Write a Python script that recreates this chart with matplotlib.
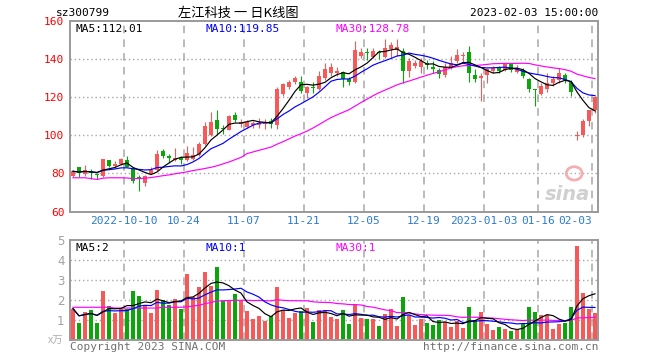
import numpy as np
import pandas as pd
import matplotlib
matplotlib.use('Agg')
import matplotlib.pyplot as plt
from matplotlib.patches import Ellipse

# daily candles, oldest first (one per trading day)
opens = [78.6, 83.2, 79.8, 81.1, 79.5, 78.6, 86.8, 83.9, 84.7, 87.2,
         82.8, 78.3, 74.9, 79.8, 81.6, 91.6, 89.3, 86.8, 88.2, 86.8,
         87.7, 89.5, 95.3, 100.0, 107.9, 104.0, 103.0, 110.5, 105.8, 104.6,
         105.4, 105.4, 105.8, 107.7, 105.4, 121.8, 125.3, 128.2, 128.2, 122.1,
         125.3, 124.4, 130.0, 132.6, 132.6, 133.0, 129.5, 128.2, 141.8, 143.9,
         141.0, 143.9, 141.0, 145.3, 144.6, 144.5, 133.5, 136.6, 135.8, 138.2,
         136.1, 134.4, 131.8, 135.8, 138.8, 141.6, 143.5, 131.8, 130.0, 131.8,
         133.5, 135.3, 134.4, 137.2, 133.2, 134.2, 129.3, 124.4, 121.9, 124.4,
         127.2, 128.9, 131.4, 127.9, 99.5, 100.4, 107.4, 113.2]
highs = [81.6, 83.4, 84.2, 82.2, 80.2, 87.8, 87.0, 86.5, 87.9, 89.1,
         82.8, 79.2, 79.0, 83.3, 92.1, 92.6, 90.3, 93.3, 89.3, 94.2,
         94.0, 96.5, 107.0, 112.3, 113.2, 105.2, 110.5, 112.2, 108.8, 108.1,
         107.7, 108.9, 108.4, 108.9, 125.3, 127.7, 129.1, 130.9, 130.9, 126.0,
         128.2, 133.5, 137.9, 138.2, 136.1, 133.5, 130.5, 149.3, 145.8, 145.8,
         145.8, 144.6, 150.5, 148.8, 150.5, 145.8, 140.7, 139.7, 140.5, 139.3,
         138.8, 135.3, 137.9, 141.4, 145.3, 143.5, 146.7, 134.7, 132.6, 135.3,
         136.5, 136.5, 138.2, 138.0, 137.0, 135.4, 130.2, 124.4, 127.5, 132.5,
         130.9, 135.4, 132.5, 128.9, 102.1, 108.6, 113.5, 120.5]
lows = [78.0, 78.1, 78.5, 77.3, 77.3, 78.2, 83.3, 83.3, 84.3, 83.3,
        74.9, 70.7, 73.3, 79.6, 81.3, 88.2, 85.4, 86.5, 85.1, 86.5,
        86.8, 89.3, 94.8, 99.5, 100.9, 100.8, 102.6, 106.9, 104.4, 103.8,
        103.8, 103.8, 103.5, 104.0, 103.5, 120.8, 124.2, 126.8, 122.1, 119.5,
        122.1, 123.9, 129.1, 130.9, 130.9, 125.3, 126.5, 127.4, 140.5, 139.3,
        140.5, 140.0, 140.5, 140.8, 141.8, 127.4, 130.5, 135.1, 132.6, 134.7,
        132.6, 130.0, 130.5, 134.7, 137.9, 138.2, 128.2, 127.9, 118.2, 127.7,
        132.6, 132.6, 133.5, 133.2, 132.5, 130.2, 122.6, 115.3, 120.9, 122.8,
        126.1, 127.5, 127.5, 120.5, 97.4, 99.1, 105.1, 111.8]
closes = [81.1, 80.4, 81.6, 80.2, 79.0, 87.4, 83.9, 85.1, 87.4, 83.3,
          76.0, 77.3, 78.4, 81.9, 90.0, 89.0, 88.1, 88.2, 86.8, 90.7,
          89.8, 95.3, 104.9, 107.0, 103.5, 103.4, 110.0, 108.2, 107.0, 107.2,
          106.7, 106.3, 106.7, 106.0, 124.2, 126.8, 128.2, 130.0, 123.5, 125.3,
          124.6, 130.9, 134.7, 135.6, 133.5, 129.5, 128.2, 144.9, 143.5, 143.3,
          144.0, 143.4, 145.8, 147.5, 146.3, 134.0, 139.1, 137.9, 138.8, 137.0,
          134.7, 132.3, 136.1, 138.2, 142.3, 142.1, 132.6, 129.6, 131.2, 134.7,
          135.3, 134.0, 137.4, 134.2, 135.4, 131.1, 124.4, 123.7, 125.8, 127.5,
          129.6, 132.5, 128.9, 122.6, 100.2, 107.4, 113.5, 120.2]
# volume, unit: 万
volumes = [1.55, 0.83, 1.38, 1.47, 0.83, 2.42, 1.67, 1.33, 1.55, 1.55,
           2.42, 2.17, 1.75, 1.35, 2.47, 1.97, 1.72, 2.02, 1.52, 3.30,
           2.13, 2.63, 3.37, 2.67, 3.63, 1.92, 1.92, 2.27, 1.92, 1.42,
           1.02, 1.18, 0.93, 1.18, 2.63, 1.47, 1.08, 1.33, 1.42, 1.58,
           0.88, 1.47, 1.47, 1.13, 1.02, 1.47, 0.77, 1.80, 1.08, 1.02,
           1.02, 0.67, 1.27, 1.52, 0.67, 2.13, 1.22, 0.72, 1.02, 0.83,
           0.72, 0.97, 0.88, 0.63, 0.92, 0.58, 1.63, 0.97, 1.38, 0.77,
           0.47, 0.63, 0.52, 0.42, 0.47, 0.77, 1.63, 1.38, 1.25, 1.22,
           0.52, 0.77, 0.85, 1.63, 4.68, 2.33, 1.52, 1.33]
# MA30 over the first 29 days needs days before the window
price_ma30_head = [77.7, 77.7, 77.7, 77.3, 76.8, 77.5, 77.7, 77.7, 77.7, 77.6,
                   77.3, 77.3, 77.5, 77.8, 78.3, 78.8, 79.2, 79.8, 80.3, 80.8,
                   81.5, 82.0, 82.6, 83.2, 84.0, 85.0, 86.0, 87.2, 88.4]
vol_ma30_head = [1.62, 1.62, 1.62, 1.62, 1.62, 1.62, 1.62, 1.58, 1.58, 1.58,
                 1.58, 1.58, 1.58, 1.58, 1.58, 1.62, 1.62, 1.62, 1.62, 1.65,
                 1.68, 1.72, 1.80, 1.86, 1.93, 1.95, 1.96, 1.97, 1.97]

tick_idx = [9, 19, 29, 39, 49, 59, 69, 78, 87]
tick_labels = ['2022-10-10', '10-24', '11-07', '11-21', '12-05', '12-19',
               '2023-01-03', '01-16', '02-03']

RED = '#f75858'
GREEN = '#0aa60a'
GRID = '#a8a8a8'
MONO = 'DejaVu Sans Mono'

o = np.array(opens); h = np.array(highs); l = np.array(lows); c = np.array(closes)
v = np.array(volumes)
n = len(c)
xs = np.arange(n)
up = c >= o
cols = np.where(up, RED, GREEN)

def ma(s, k, head=None):
    m = pd.Series(s).rolling(k, min_periods=1).mean().values
    if head is not None:
        m[:len(head)] = head
    return m

W, H = 660, 360
fig = plt.figure(figsize=(W / 100, H / 100), dpi=100)
fig.patch.set_facecolor('white')

def px(x, y):
    return x / W, 1 - y / H

def frame(a, ymin, ymax):
    a.set_xlim(-0.5, n - 0.5)
    a.set_ylim(ymin, ymax)
    for s in a.spines.values():
        s.set_color('#9a9a9a')
        s.set_linewidth(1.4)
    for t in tick_idx:
        a.axvline(t - 0.5, color=GRID, lw=1.1, ls=(0, (5, 4)), zorder=0)
    a.tick_params(length=0)

# ---- price panel
ax = fig.add_axes([70 / W, 1 - 211.5 / H, 528 / W, 190.5 / H])
frame(ax, 60, 160)
for yv in [80, 100, 120, 140]:
    ax.axhline(yv, color=GRID, lw=1, ls=(0, (1, 2)), zorder=0)
ax.vlines(xs, l, h, colors=cols, lw=0.8, zorder=2)
body = np.maximum(np.abs(c - o), 0.35)
ax.bar(xs, body, 0.8, bottom=np.minimum(o, c), color=cols, zorder=3)
ax.plot(xs, ma(c, 30, price_ma30_head), color='#ff00ff', lw=0.85, zorder=4)
ax.plot(xs, ma(c, 10), color='#0000ff', lw=0.85, zorder=4)
ax.plot(xs, ma(c, 5), color='black', lw=0.85, zorder=4)
ax.set_yticks([60, 80, 100, 120, 140, 160])
ax.set_yticklabels(['60', '80', '100', '120', '140', '160'], color='red',
                   family=MONO, fontsize=8)
ax.tick_params(axis='y', pad=4)
ax.set_xticks([t - 0.5 for t in tick_idx])
ax.set_xticklabels(tick_labels, color='#2b7bd0', family=MONO, fontsize=8)
ax.tick_params(axis='x', pad=3)
ax.get_xticklabels()[-1].set_ha('right')

ax.text(0.01, 0.985, 'MA5:112.01', transform=ax.transAxes, color='black',
        family=MONO, fontsize=8, va='top')
ax.text(0.256, 0.985, 'MA10:119.85', transform=ax.transAxes, color='#0000ff',
        family=MONO, fontsize=8, va='top')
ax.text(0.502, 0.985, 'MA30:128.78', transform=ax.transAxes, color='#ff00ff',
        family=MONO, fontsize=8, va='top')

# sina watermark
ax.text(0.985, 0.04, 'sina', transform=ax.transAxes, ha='right', va='bottom',
        fontsize=14, fontweight='bold', style='italic', color='#d0d0d0', zorder=1)
ax.add_patch(Ellipse((0.955, 0.2), 0.03, 0.07, transform=ax.transAxes,
                     facecolor='none', edgecolor='#f4b0b0', lw=2, zorder=1))

# ---- volume panel
av = fig.add_axes([70 / W, 1 - 339.5 / H, 528 / W, 99.5 / H])
frame(av, 0, 5)
for yv in [1, 2, 3, 4]:
    av.axhline(yv, color=GRID, lw=1, ls=(0, (1, 2)), zorder=0)
av.bar(xs, v, 0.8, color=cols, zorder=2)
av.plot(xs, ma(v, 30, vol_ma30_head), color='#ff00ff', lw=0.85, zorder=3)
av.plot(xs, ma(v, 10), color='#0000ff', lw=0.85, zorder=3)
av.plot(xs, ma(v, 5), color='black', lw=0.85, zorder=3)
av.set_yticks([1, 2, 3, 4, 5])
av.set_yticklabels(['1', '2', '3', '4', '5'], color='#a0a0a0', fontsize=8.5)
av.tick_params(axis='y', pad=4)
av.set_xticks([])

av.text(0.01, 0.97, 'MA5:2', transform=av.transAxes, color='black',
        family=MONO, fontsize=8, va='top')
av.text(0.256, 0.97, 'MA10:1', transform=av.transAxes, color='#0000ff',
        family=MONO, fontsize=8, va='top')
av.text(0.502, 0.97, 'MA30:1', transform=av.transAxes, color='#ff00ff',
        family=MONO, fontsize=8, va='top')

# ---- header / footer texts
fig.text(*px(56, 13), 'sz300799', family=MONO, fontsize=8, va='center')
fig.text(*px(178, 13), '左江科技 一 日K线图', family=['Noto Sans CJK SC', 'DejaVu Sans'],
         fontsize=9.5, va='center')
fig.text(*px(598, 13), '2023-02-03 15:00:00', family=MONO, fontsize=8,
         va='center', ha='right')
fig.text(*px(48, 341), 'x万', family=['Noto Sans CJK SC', 'DejaVu Sans'],
         fontsize=7.5, color='#b0b0b0', va='center')
fig.text(*px(70, 347), 'Copyright 2023 SINA.COM', family=MONO, fontsize=8,
         color='#707070', va='center')
fig.text(*px(598, 347), 'http://finance.sina.com.cn', family=MONO, fontsize=8,
         color='#707070', va='center', ha='right')

fig.savefig('out.png', dpi=100, facecolor='white')
